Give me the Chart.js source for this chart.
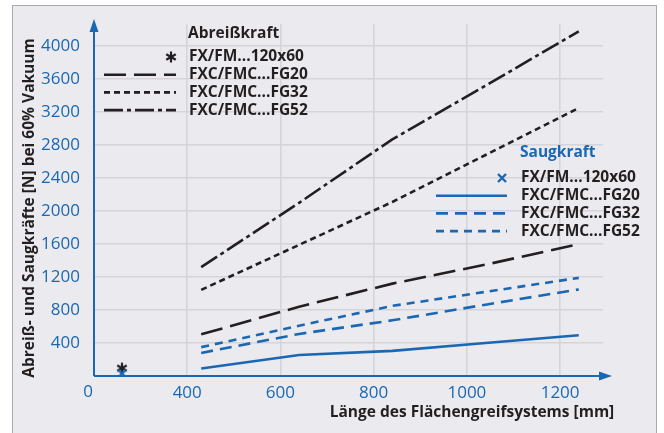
<!DOCTYPE html>
<html><head><meta charset="utf-8">
<script src="https://cdn.jsdelivr.net/npm/chart.js@4/dist/chart.umd.min.js"></script>
<style>
html,body{margin:0;padding:0;background:#fff;}
#wrap{position:relative;width:664px;height:433px;overflow:hidden;}
#frame{position:absolute;left:12px;top:5px;width:645px;height:450px;background:#ebebef;border:1.5px solid #a9a9ab;box-sizing:border-box;}
canvas{position:absolute;left:0;top:0;}
</style></head>
<body><div id="wrap"><div id="frame"></div><canvas id="c" width="664" height="433"></canvas></div>
<script>
// ---- data ----
const xLengths = [430, 640, 840, 1040, 1240];        // Länge [mm]
const abreissFG20 = [505, 840, 1120, 1350, 1600];
const abreissFG32 = [1045, 1590, 2110, 2680, 3250];
const abreissFG52 = [1320, 2100, 2870, 3520, 4180];
const saugFG20 = [90, 255, 305, 400, 495];
const saugFG32 = [280, 510, 675, 865, 1050];
const saugFG52 = [350, 610, 850, 1020, 1190];
const smallLength = [120];                            // FX/FM...120x60
const abreissSmall = [95];
const saugSmall = [30];
const xTickValues = [0, 400, 600, 800, 1000, 1200];
const yTickValues = [400, 800, 1200, 1600, 2000, 2400, 2800, 3200, 3600, 4000];
const legendAbreiss = ['FX/FM...120x60', 'FXC/FMC...FG20', 'FXC/FMC...FG32', 'FXC/FMC...FG52'];
const legendSaug = ['FX/FM...120x60', 'FXC/FMC...FG20', 'FXC/FMC...FG32', 'FXC/FMC...FG52'];

// broken x axis: 0..400 mm is drawn at half scale
const toAxis = mm => mm < 400 ? 200 + mm / 2 : mm;

const BLUE = '#1a67b3';
const DARK = '#231f20';
const GRID = '#d5d5d9';
const FONT = "'Open Sans', 'DejaVu Sans', sans-serif";

// glyph-like point styles (asterisk and x as in the original)
function glyph(draw) {
  const c = document.createElement('canvas');
  c.width = 14; c.height = 14;
  draw(c.getContext('2d'));
  return c;
}
const starImg = glyph(g => {
  g.strokeStyle = DARK; g.lineWidth = 2.2;
  for (let k = 0; k < 3; k++) {
    const a = Math.PI / 2 + k * Math.PI / 3;
    g.beginPath();
    g.moveTo(7 + Math.cos(a) * 5.5, 7 + Math.sin(a) * 5.5);
    g.lineTo(7 - Math.cos(a) * 5.5, 7 - Math.sin(a) * 5.5);
    g.stroke();
  }
});
const xImg = glyph(g => {
  g.strokeStyle = BLUE; g.lineWidth = 2.4;
  g.beginPath(); g.moveTo(3, 3); g.lineTo(11, 11); g.moveTo(11, 3); g.lineTo(3, 11); g.stroke();
});

function series(xs, ys) { return xs.map((x, i) => ({ x: toAxis(x), y: ys[i] })); }

const datasets = [
  { label: legendAbreiss[0], group: 'a', data: series(smallLength, abreissSmall), showLine: false, order: 1,
    pointStyle: starImg, pointRadius: 7, borderColor: DARK, backgroundColor: DARK },
  { label: legendAbreiss[1], group: 'a', data: series(xLengths, abreissFG20), borderColor: DARK, borderWidth: 2.6, borderDash: [22, 8] },
  { label: legendAbreiss[2], group: 'a', data: series(xLengths, abreissFG32), borderColor: DARK, borderWidth: 2.6, borderDash: [6, 4] },
  { label: legendAbreiss[3], group: 'a', data: series(xLengths, abreissFG52), borderColor: DARK, borderWidth: 2.6, borderDash: [19, 4, 4, 4] },
  { label: legendSaug[0], group: 's', data: series(smallLength, saugSmall), showLine: false, order: 0,
    pointStyle: xImg, pointRadius: 7, borderColor: BLUE, backgroundColor: BLUE },
  { label: legendSaug[1], group: 's', data: series(xLengths, saugFG20), borderColor: BLUE, borderWidth: 2.6 },
  { label: legendSaug[2], group: 's', data: series(xLengths, saugFG32), borderColor: BLUE, borderWidth: 2.6, borderDash: [12, 7] },
  { label: legendSaug[3], group: 's', data: series(xLengths, saugFG52), borderColor: BLUE, borderWidth: 2.6, borderDash: [8, 6] },
];
datasets.forEach(d => { if (d.showLine !== false) { d.pointRadius = 0; d.fill = false; d.tension = 0; d.order = 2; } });

const overlay = {
  id: 'overlay',
  beforeDatasetsDraw(chart) {
    const { ctx } = chart;
    const x0 = chart.scales.x.getPixelForValue(toAxis(0));
    const y0 = chart.scales.y.getPixelForValue(0);
    ctx.save();
    ctx.strokeStyle = BLUE; ctx.fillStyle = BLUE; ctx.lineWidth = 2;
    ctx.beginPath(); ctx.moveTo(x0, y0); ctx.lineTo(x0, 30); ctx.stroke();
    ctx.beginPath(); ctx.moveTo(x0, 19); ctx.lineTo(x0 - 4.5, 32); ctx.lineTo(x0 + 4.5, 32); ctx.closePath(); ctx.fill();
    ctx.beginPath(); ctx.moveTo(x0, y0); ctx.lineTo(602, y0); ctx.stroke();
    ctx.beginPath(); ctx.moveTo(612, y0); ctx.lineTo(599, y0 - 4.5); ctx.lineTo(599, y0 + 4.5); ctx.closePath(); ctx.fill();
    ctx.restore();
  },
  afterDraw(chart) {
    const { ctx } = chart;
    ctx.save();
    // origin label
    ctx.fillStyle = BLUE; ctx.font = `17px ${FONT}`; ctx.textAlign = 'center'; ctx.textBaseline = 'middle';
    ctx.fillText('0', 88, 392);
    // axis titles
    ctx.fillStyle = DARK; ctx.font = `bold 15.5px ${FONT}`;
    ctx.fillText('Länge des Flächengreifsystems [mm]', 472, 413);
    ctx.save(); ctx.translate(30, 208); ctx.rotate(-Math.PI / 2);
    ctx.fillText('Abreiß- und Saugkräfte [N] bei 60% Vakuum', 0, 0);
    ctx.restore();
    // legends
    const blocks = [
      { title: 'Abreißkraft', color: DARK, group: 'a', tx: 188, ty: 34, y0: 57, xs: 104, xe: 176 },
      { title: 'Saugkraft', color: BLUE, group: 's', tx: 520, ty: 153, y0: 178, xs: 436, xe: 507 },
    ];
    const step = 17.7;
    blocks.forEach(b => {
      ctx.textAlign = 'left'; ctx.textBaseline = 'middle';
      ctx.fillStyle = b.color; ctx.font = `bold 15.5px ${FONT}`;
      ctx.fillText(b.title, b.tx, b.ty);
      chart.data.datasets.filter(d => d.group === b.group).forEach((d, i) => {
        const y = b.y0 + i * step;
        ctx.fillStyle = DARK; ctx.font = `bold 15.5px ${FONT}`;
        ctx.fillText(d.label, b.tx + 1, y);
        if (d.showLine === false) {
          Chart.helpers.drawPoint(ctx, { pointStyle: d.pointStyle, radius: d.pointRadius, borderWidth: 0, rotation: 0 }, b.xe - 5, y);
        } else {
          ctx.strokeStyle = d.borderColor; ctx.lineWidth = d.borderWidth;
          ctx.setLineDash(d.borderDash || []);
          ctx.beginPath(); ctx.moveTo(b.xs, y); ctx.lineTo(b.xe, y); ctx.stroke();
          ctx.setLineDash([]);
        }
      });
    });
    ctx.restore();
  }
};

new Chart(document.getElementById('c'), {
  type: 'line',
  data: { datasets },
  plugins: [overlay],
  options: {
    responsive: false, animation: false, devicePixelRatio: 1,
    layout: { padding: { top: 23, right: 61, left: 0, bottom: 0 } },
    plugins: { legend: { display: false }, tooltip: { enabled: false } },
    scales: {
      x: {
        type: 'linear', min: toAxis(0), max: 1292,
        afterBuildTicks: s => { s.ticks = xTickValues.map(v => ({ value: toAxis(v) })); },
        afterFit: s => { s.height = 57; },
        border: { display: false },
        grid: { color: c => (c.tick && c.tick.value === toAxis(0)) ? 'rgba(0,0,0,0)' : GRID, lineWidth: 1.6, drawTicks: false },
        ticks: { color: BLUE, font: { family: FONT, size: 17 }, padding: 7, maxRotation: 0, autoSkip: false,
                 callback: v => v === toAxis(0) ? '' : String(v) }
      },
      y: {
        type: 'linear', min: 0, max: 4266,
        afterBuildTicks: s => { s.ticks = yTickValues.map(v => ({ value: v })); },
        afterFit: s => { s.width = 94; },
        border: { display: false },
        grid: { color: GRID, lineWidth: 1.6, drawTicks: false },
        ticks: { color: BLUE, font: { family: FONT, size: 17 }, padding: 14, callback: v => String(v) }
      }
    }
  }
});
</script>
</body></html>
